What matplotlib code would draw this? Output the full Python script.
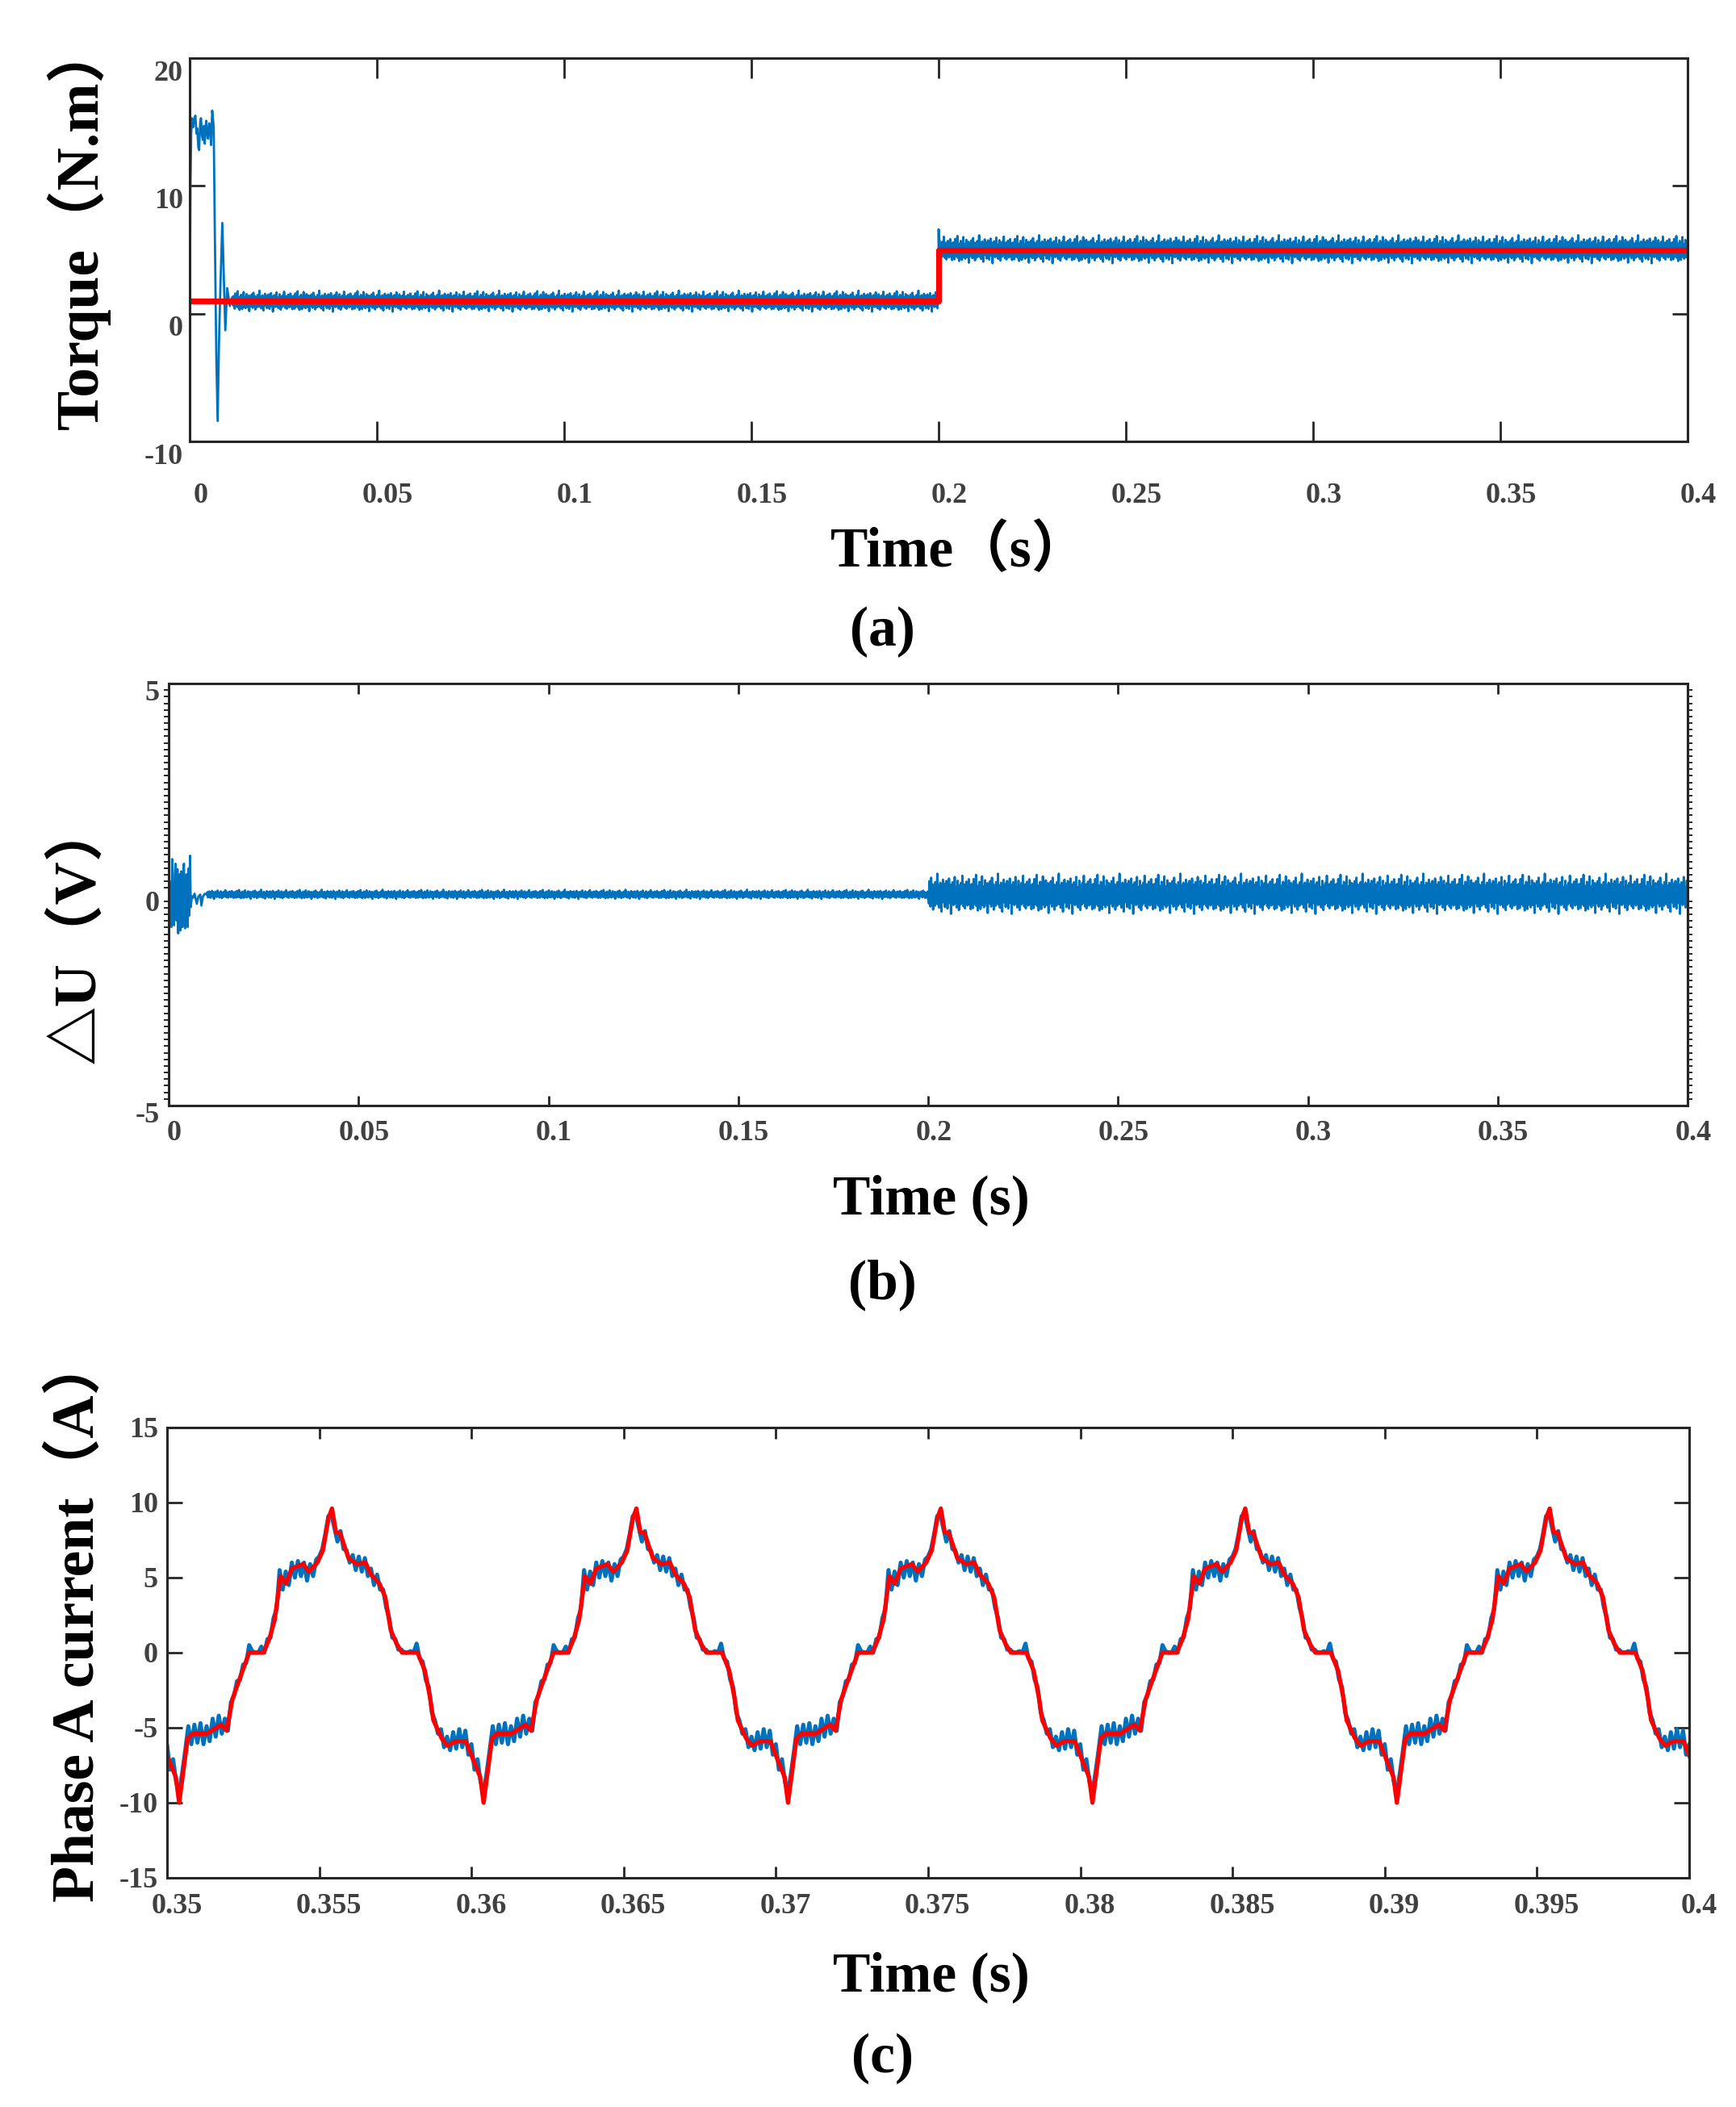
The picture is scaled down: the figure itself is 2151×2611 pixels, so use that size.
import numpy as np
import matplotlib
matplotlib.use("Agg")
import matplotlib.pyplot as plt
from matplotlib.ticker import MultipleLocator
from matplotlib.transforms import ScaledTranslation

plt.rcParams['font.family'] = ['Liberation Serif', 'Noto Sans CJK SC', 'DejaVu Sans']
plt.rcParams['font.weight'] = 'bold'

BLUE = '#0072BD'
RED = '#FF0000'
AXC = '#262626'
TICKC = '#404040'

# hand-read noise pattern (unitless, roughly -1..1), reused for the noisy bands
noise = [0.12, -0.35, 0.48, -0.10, 0.22, -0.62, 0.05, 0.71, -0.28, 0.15,
         -0.44, 0.33, -0.08, 0.90, -0.52, 0.18, -0.21, 0.40, -0.73, 0.09,
         0.27, -0.15, 0.58, -0.37, 0.02, -0.66, 0.44, 0.11, -0.25, 0.83,
         -0.47, 0.06, -0.12, 0.36, -0.58, 0.24, -0.03, 0.65, -0.31, 0.14,
         -0.49, 0.29, -0.07, 0.52, -0.84, 0.19, 0.38, -0.22, 0.07, -0.41,
         0.61, -0.16, 0.25, -0.55, 0.10, 0.77, -0.34, 0.20, -0.09, 0.46,
         -0.69, 0.13, 0.31, -0.26, 0.04, -0.51, 0.57, -0.19, 0.35, -0.40,
         0.08, 0.95, -0.45, 0.17, -0.13, 0.42, -0.60, 0.23, -0.02, 0.54,
         -0.30, 0.16, -0.78, 0.37, 0.03, -0.24, 0.68, -0.36, 0.21, -0.11,
         0.49, -0.57, 0.26, 0.01, -0.43, 0.62, -0.18, 0.09, -0.64, 0.32,
         0.14, -0.29, 0.73, -0.39, 0.05, -0.20, 0.45, -0.88, 0.28, 0.11,
         -0.33, 0.56, -0.06, 0.19, -0.48, 0.39, -0.14, 0.80, -0.42, 0.07,
         -0.23, 0.34, -0.59, 0.22, 0.00, 0.63, -0.32, 0.15, -0.71, 0.41,
         -0.05, 0.27, -0.46, 0.53, -0.17, 0.12, -0.38, 0.86, -0.27, 0.18,
         -0.54, 0.30, -0.10, 0.47, -0.63, 0.24, 0.06, -0.35, 0.59, -0.21,
         0.13, -0.50, 0.37, -0.04, 0.70, -0.44, 0.20, -0.15, 0.43, -0.67]

# ---- (a) torque ----
torque_start_t = [0.0, 0.0002, 0.0004, 0.0006, 0.0009, 0.0012, 0.0015, 0.0018, 0.0020,
                  0.0023, 0.0025, 0.0028, 0.0030, 0.0033, 0.0035, 0.0038, 0.0040, 0.0044,
                  0.0047, 0.0049, 0.0052, 0.0054, 0.0057, 0.0060, 0.0064, 0.0067, 0.0071,
                  0.00745, 0.0078, 0.0082, 0.0087, 0.0091, 0.0095, 0.0100, 0.0107, 0.0114]
torque_start_v = [0.2, 10.2, 14.2, 15.3, 14.6, 15.2, 15.5, 14.1, 14.5, 13.0, 12.8, 15.0,
                  15.3, 13.9, 13.6, 14.7, 13.3, 15.1, 14.0, 13.7, 14.9, 14.8, 13.2, 15.9,
                  14.6, 6.3, -3.4, -8.4, -2.4, 2.3, 7.1, 2.9, -1.3, 2.0, 0.6, 1.3]
torque_ref = [1.0, 5.0]
torque_base = [0.95, 5.0]
torque_amp = [0.9, 1.2]
step_time = 0.2
step_spike = 6.6

# ---- (b) delta U ----
du_start_t = [0.0, 0.0004, 0.0007, 0.0009, 0.0011, 0.0014, 0.0016, 0.0018, 0.0021, 0.0023,
              0.0025, 0.0027, 0.0029, 0.0031, 0.0033, 0.0036, 0.0038, 0.0040, 0.0043, 0.0045,
              0.0047, 0.0050, 0.0052, 0.0054, 0.0056, 0.0058, 0.0061, 0.0064, 0.0068, 0.0071,
              0.0074, 0.0078, 0.0083, 0.0086, 0.0090, 0.0095, 0.0100]
du_start_v = [0.0, 0.30, -0.77, 0.84, -0.50, -0.73, 0.48, 0.73, -0.62, 0.60, -0.92, 0.35,
              0.48, -0.85, 0.55, -0.77, 0.40, 0.73, -0.80, 0.30, 0.48, -0.77, 0.62, -0.50,
              0.92, -0.30, -0.04, -0.08, 0.02, -0.10, -0.22, -0.05, 0.00, -0.26, -0.05, 0.02, 0.0]
du_amp = [0.12, 0.52]

# ---- (c) phase A current, one electrical period (10 ms), dt in ms from the sharp trough ----
red_cycle_dt = [0.00, 0.28, 0.45, 0.91, 1.38, 1.56, 1.75, 2.03, 2.30, 2.77, 2.96, 3.14,
                3.33, 3.51, 3.70, 4.07, 4.26, 4.54, 4.72, 4.91, 5.02, 5.15, 5.28, 5.56,
                5.84, 6.12, 6.30, 6.58, 6.77, 6.95, 7.14, 7.32, 7.83, 8.07, 8.25, 8.35,
                8.62, 8.81, 9.09, 9.42, 9.65, 9.89]
red_cycle_v = [-10.0, -5.7, -5.4, -5.4, -4.8, -5.2, -3.1, -1.5, 0.0, 0.0, 0.9, 2.2,
               5.1, 4.6, 5.6, 5.9, 5.4, 6.0, 6.8, 9.0, 9.6, 8.0, 8.0, 6.3,
               5.9, 6.0, 5.2, 4.6, 3.7, 1.5, 0.6, 0.0, 0.0, -1.2, -3.1, -4.5,
               -5.7, -6.2, -5.9, -5.9, -7.1, -8.3]
# blue (measured) current sampled every 0.1 ms over the same period
blue_cycle_v = [-9.3, -8.0, -6.5, -4.9, -6.1, -4.8, -6.0, -4.7, -6.1, -4.9,
                -5.9, -4.4, -5.6, -4.2, -5.4, -4.4, -5.2, -3.3, -2.9, -1.9,
                -1.8, -0.8, -0.7, 0.5, 0.1, 0.0, 0.0, 0.4, 0.0, 0.9,
                1.0, 2.3, 2.9, 5.5, 4.2, 5.4, 4.5, 6.0, 5.0, 6.1,
                5.1, 6.0, 4.8, 5.9, 5.1, 6.2, 6.4, 6.9, 7.9, 9.1,
                9.2, 8.3, 7.4, 8.1, 6.9, 6.8, 6.0, 6.5, 5.5, 6.4,
                5.4, 6.3, 5.1, 5.6, 4.5, 5.2, 4.2, 4.2, 3.0, 2.3,
                1.0, 0.9, 0.2, 0.2, 0.0, 0.0, 0.1, 0.0, 0.6, -0.4,
                -0.6, -1.8, -2.3, -4.0, -4.5, -5.4, -5.1, -6.3, -5.6, -6.5,
                -5.3, -6.4, -5.1, -6.3, -5.2, -6.8, -6.1, -7.8, -7.1, -8.6]
trough_times = [0.3404, 0.3504, 0.3604, 0.3704, 0.3804, 0.3904]

x_ticks_long = [0, 0.05, 0.1, 0.15, 0.2, 0.25, 0.3, 0.35, 0.4]
x_labels_long = ['0', '0.05', '0.1', '0.15', '0.2', '0.25', '0.3', '0.35', '0.4']
x_ticks_c = [0.35, 0.355, 0.36, 0.365, 0.37, 0.375, 0.38, 0.385, 0.39, 0.395, 0.4]
x_labels_c = ['0.35', '0.355', '0.36', '0.365', '0.37', '0.375', '0.38', '0.385', '0.39', '0.395', '0.4']


def noise_band(n, shift):
    pat = np.tile(noise, n // len(noise) + 2)
    return np.roll(pat, shift)[:n]


def style_axes(ax, xlen, ylen, xpad, ypad, dx, dy_x, dy_y):
    for s in ax.spines.values():
        s.set_color(AXC)
        s.set_linewidth(1.1)
    ax.tick_params(axis='x', which='major', direction='in', top=True, bottom=True,
                   length=xlen, width=1.0, color=AXC, labelsize=13, labelcolor=TICKC, pad=xpad)
    ax.tick_params(axis='y', which='major', direction='in', left=True, right=True,
                   length=ylen, width=1.0, color=AXC, labelsize=13, labelcolor=TICKC, pad=ypad)
    fig = ax.figure
    for lab in ax.get_xticklabels():
        lab.set_fontweight('bold')
        lab.set_transform(lab.get_transform() + ScaledTranslation(dx / 72, dy_x / 72, fig.dpi_scale_trans))
    for lab in ax.get_yticklabels():
        lab.set_fontweight('bold')
        lab.set_transform(lab.get_transform() + ScaledTranslation(0, dy_y / 72, fig.dpi_scale_trans))


fig = plt.figure(figsize=(10.755, 13.055), dpi=200)

# ---------- panel (a) ----------
ax1 = fig.add_axes([0.1093, 0.7905, 0.8628, 0.1819])
t1 = np.arange(0.0115, step_time, 0.0001)
v1 = torque_base[0] + torque_amp[0] * noise_band(len(t1), 0)
t2 = np.arange(step_time, 0.40005, 0.0001)
v2 = torque_base[1] + torque_amp[1] * noise_band(len(t2), 37)
v2[0] = step_spike
ta = np.concatenate([torque_start_t, t1, t2])
va = np.concatenate([torque_start_v, v1, v2])
ax1.plot(ta, va, color=BLUE, lw=1.0)
ax1.plot([0, step_time, step_time, 0.4], [torque_ref[0], torque_ref[0], torque_ref[1], torque_ref[1]],
         color=RED, lw=2.6, solid_capstyle='butt')
ax1.set_xlim(0, 0.4)
ax1.set_ylim(-10, 20)
ax1.set_xticks(x_ticks_long)
ax1.set_xticklabels(x_labels_long)
ax1.set_yticks([-10, 0, 10, 20])
ax1.set_yticklabels(['-10', '0', '10', '20'])
style_axes(ax1, 9, 6.8, 18.5, 3, 4.7, 0, -5.4)

# ---------- panel (b) ----------
ax2 = fig.add_axes([0.0972, 0.4753, 0.8749, 0.2003])
t3 = np.arange(0.0101, step_time, 0.0001)
v3 = du_amp[0] * noise_band(len(t3), 71)
t4 = np.arange(step_time, 0.40005, 0.0001)
v4 = du_amp[1] * noise_band(len(t4), 113)
tb = np.concatenate([du_start_t, t3, t4])
vb = np.concatenate([du_start_v, v3, v4])
ax2.plot(tb, vb, color=BLUE, lw=1.0)
ax2.set_xlim(0, 0.4)
ax2.set_ylim(-5, 5)
ax2.set_xticks(x_ticks_long)
ax2.set_xticklabels(x_labels_long)
ax2.set_yticks([-5, 0, 5])
ax2.set_yticklabels(['-5', '0', '5'])
ax2.yaxis.set_minor_locator(MultipleLocator(5 / 32))
style_axes(ax2, 4.5, 0, 6.5, 4, 2.5, 0, -3)
ax2.tick_params(axis='y', which='minor', direction='out', left=True, right=True,
                length=2.0, width=0.7, color=AXC)

# ---------- panel (c) ----------
ax3 = fig.add_axes([0.0962, 0.1088, 0.8768, 0.2137])
grid_dt = np.arange(len(blue_cycle_v)) * 0.1
tr = np.concatenate([t0 + np.array(red_cycle_dt) / 1000 for t0 in trough_times] + [[trough_times[-1] + 0.01]])
vr = np.concatenate([red_cycle_v for _ in trough_times] + [[red_cycle_v[0]]])
tbl = np.concatenate([t0 + grid_dt / 1000 for t0 in trough_times])
vbl = np.concatenate([blue_cycle_v for _ in trough_times])
ax3.plot(tbl, vbl, color=BLUE, lw=1.8)
ax3.plot(tr, vr, color=RED, lw=1.9)
ax3.set_xlim(0.35, 0.4)
ax3.set_ylim(-15, 15)
ax3.set_xticks(x_ticks_c)
ax3.set_xticklabels(x_labels_c)
ax3.set_yticks([-15, -10, -5, 0, 5, 10, 15])
ax3.set_yticklabels(['-15', '-10', '-5', '0', '5', '10', '15'])
style_axes(ax3, 5, 7, 7, 4, 4.3, 0, 0)

# ---------- labels ----------
fs_lab = 25
fs_ylab = 26.5
fig.text(0.0450, 0.893, 'Torque（N.m）', rotation=90, ha='center', va='center', fontsize=fs_ylab, fontweight='bold')
fig.text(0.0450, 0.558, '△U（V）', rotation=90, ha='center', va='center', fontsize=fs_ylab, fontweight='bold')
fig.text(0.0450, 0.2318, 'Phase A current（A）', rotation=90, ha='center', va='center', fontsize=fs_ylab, fontweight='bold')

fig.text(0.5527, 0.7383, 'Time（s）', ha='center', va='center', fontsize=fs_lab, fontweight='bold')
fig.text(0.5363, 0.4305, 'Time (s)', ha='center', va='center', fontsize=fs_lab, fontweight='bold')
fig.text(0.5363, 0.0616, 'Time (s)', ha='center', va='center', fontsize=fs_lab, fontweight='bold')

fig.text(0.5084, 0.700, '(a)', ha='center', va='center', fontsize=fs_lab, fontweight='bold')
fig.text(0.5084, 0.3903, '(b)', ha='center', va='center', fontsize=fs_lab, fontweight='bold')
fig.text(0.5084, 0.023, '(c)', ha='center', va='center', fontsize=fs_lab, fontweight='bold')

fig.savefig('out.png', dpi=200)
